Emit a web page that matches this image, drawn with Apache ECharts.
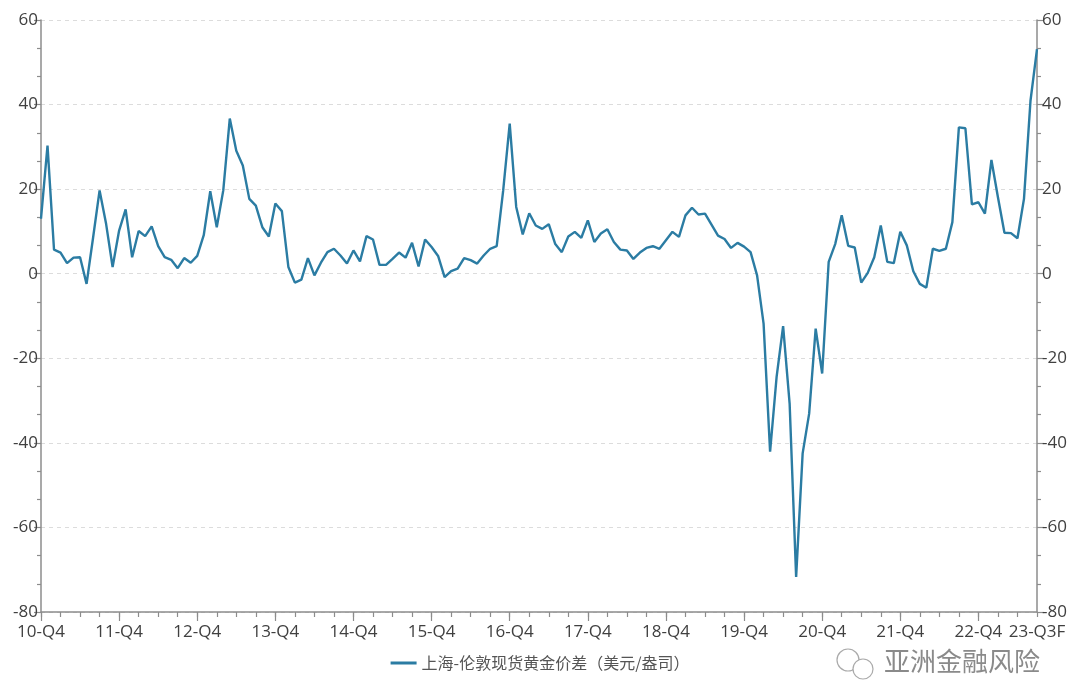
<!DOCTYPE html>
<html><head><meta charset="utf-8">
<script src="https://cdn.jsdelivr.net/npm/echarts@6/dist/echarts.min.js"></script>
<style>html,body{margin:0;padding:0;background:#fff}#c{width:1080px;height:688px}</style>
</head><body><div id="c"></div>
<script>
// Monthly values, Dec 2010 .. Sep 2023 (USD/oz)
const seriesName = '上海-伦敦现货黄金价差（美元/盎司）';
const spread = [
  13.0, 30.3, 5.7, 5.0, 2.5, 3.8, 3.9, -2.4, 8.5, 19.7, 11.8, 1.6,
  10.2, 15.2, 3.9, 10.1, 8.9, 11.2, 6.5, 3.9, 3.3, 1.3, 3.7, 2.6,
  4.2, 9.1, 19.5, 11.0, 19.7, 36.7, 29.1, 25.6, 17.7, 16.1, 11.0, 8.8,
  16.6, 14.8, 1.6, -2.1, -1.4, 3.7, -0.4, 2.6, 5.1, 5.9, 4.3, 2.4,
  5.5, 2.9, 8.9, 8.1, 2.1, 2.1, 3.5, 5.0, 3.8, 7.3, 1.7, 8.1,
  6.3, 4.2, -0.8, 0.6, 1.2, 3.7, 3.2, 2.4, 4.3, 5.9, 6.5, 19.7,
  35.5, 15.8, 9.3, 14.3, 11.4, 10.6, 11.7, 7.0, 5.1, 8.8, 9.9, 8.5,
  12.6, 7.5, 9.5, 10.5, 7.5, 5.7, 5.5, 3.5, 5.0, 6.1, 6.5, 5.9,
  7.9, 9.9, 8.7, 13.8, 15.6, 14.0, 14.2, 11.6, 9.0, 8.2, 6.1, 7.3,
  6.4, 5.1, -0.4, -11.8, -42.1, -24.4, -12.4, -30.7, -71.7, -42.5, -33.1, -13.0,
  -23.6, 2.8, 7.0, 13.8, 6.6, 6.2, -2.1, 0.2, 3.9, 11.4, 2.8, 2.5,
  9.9, 6.7, 0.6, -2.4, -3.3, 5.9, 5.4, 5.9, 12.2, 34.6, 34.4, 16.4,
  16.9, 14.2, 26.9, 18.1, 9.7, 9.6, 8.4, 17.7, 40.9, 53.1
];
// labelled tick positions (month index) and their labels
const tickIndex = [0, 12, 24, 36, 48, 60, 72, 84, 96, 108, 120, 132, 144, 153];
const tickLabels = ['10-Q4','11-Q4','12-Q4','13-Q4','14-Q4','15-Q4','16-Q4','17-Q4','18-Q4','19-Q4','20-Q4','21-Q4','22-Q4','23-Q3F'];
const months = [];
for (let i = 0; i < spread.length; i++) {
  const m = 11 + i; const y = 2010 + Math.floor(m / 12); const mm = (m % 12) + 1;
  months.push(y + '-' + (mm < 10 ? '0' + mm : mm));
}
const watermark = '亚洲金融风险';

const numFont = "'Open Sans', 'Noto Sans', sans-serif";
const cjkFont = "'Noto Sans CJK SC', sans-serif";
const axisColor = '#8c8c8c';
const chart = echarts.init(document.getElementById('c'));
const yAxisCommon = {
  type: 'value', min: -80, max: 60, interval: 20,
  axisLine: { show: true, lineStyle: { color: axisColor, width: 1.5 } },
  axisTick: { show: true, length: 7, lineStyle: { color: axisColor, width: 1.2 } },
  minorTick: { show: true, splitNumber: 3, length: 4, lineStyle: { color: axisColor, width: 1.2 } },
  axisLabel: { color: '#404040', fontSize: 17, fontFamily: numFont, margin: 3 },
};
chart.setOption({
  animation: false,
  grid: { left: 41, right: 43, top: 20, bottom: 76, containLabel: false },
  legend: {
    bottom: 12, left: 'center', itemWidth: 26, itemHeight: 3, icon: 'rect', itemGap: 8,
    textStyle: { color: '#555', fontSize: 16, fontFamily: cjkFont },
    data: [seriesName]
  },
  xAxis: [{
    type: 'category', data: months, boundaryGap: false,
    axisLine: { onZero: false, lineStyle: { color: axisColor, width: 1.5 } },
    axisTick: { show: true, length: 5, interval: (i) => i % 3 === 0, lineStyle: { color: axisColor, width: 1.2 } },
    axisLabel: { show: false },
    splitLine: { show: false }
  }, {
    type: 'category', data: months, boundaryGap: false, position: 'bottom',
    axisLine: { show: false, onZero: false },
    axisTick: { show: true, length: 9, interval: (i) => i % 12 === 0, lineStyle: { color: axisColor, width: 1.2 } },
    axisLabel: {
      interval: (i) => tickIndex.indexOf(i) >= 0,
      formatter: (v, i) => { const k = tickIndex.indexOf(i); return k >= 0 ? tickLabels[k] : ''; },
      color: '#404040', fontSize: 17, fontFamily: numFont, margin: 12
    },
    splitLine: { show: false }
  }],
  yAxis: [
    Object.assign({}, yAxisCommon, { position: 'left',
      splitLine: { show: true, lineStyle: { color: '#dcdcdc', type: [4, 4] } } }),
    Object.assign({}, yAxisCommon, { position: 'right', splitLine: { show: false },
      axisLabel: Object.assign({}, yAxisCommon.axisLabel, { margin: 5 }) })
  ],
  series: [{
    name: seriesName, type: 'line', data: spread, showSymbol: false, symbol: 'none',
    lineStyle: { color: '#2b7ca3', width: 2.4 }, itemStyle: { color: '#2b7ca3' }
  }],
  graphic: [
    { type: 'circle', shape: { cx: 848, cy: 660, r: 11 }, style: { fill: 'none', stroke: '#aaa', lineWidth: 1.2 } },
    { type: 'circle', shape: { cx: 863, cy: 669, r: 10 }, style: { fill: '#fff', stroke: '#aaa', lineWidth: 1.2 } },
    { type: 'text', left: 884, top: 648, style: { text: watermark, fill: '#8a8a8a', font: "26px 'Noto Sans CJK SC'" } }
  ]
});
</script></body></html>
